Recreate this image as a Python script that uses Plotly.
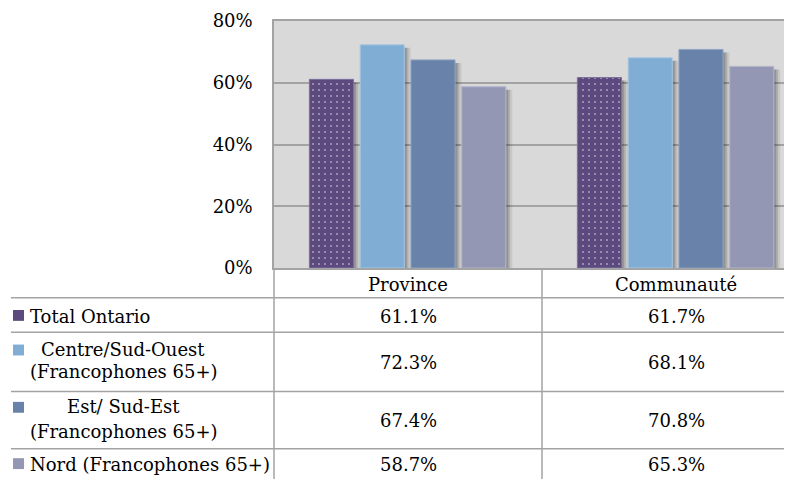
import plotly.graph_objects as go

# ---------------- data ----------------
categories = ["Province", "Communauté"]
series_names = [
    "Total Ontario",
    "Centre/Sud-Ouest (Francophones 65+)",
    "Est/ Sud-Est (Francophones 65+)",
    "Nord (Francophones 65+)",
]
province = [61.1, 72.3, 67.4, 58.7]
communaute = [61.7, 68.1, 70.8, 65.3]
tick_vals = [0, 20, 40, 60, 80]
tick_text = ["0%", "20%", "40%", "60%", "80%"]
legend_lines = [
    ["Total Ontario"],
    ["Centre/Sud-Ouest", "(Francophones 65+)"],
    ["Est/ Sud-Est", "(Francophones 65+)"],
    ["Nord (Francophones 65+)"],
]

# ---------------- styles ----------------
colors = ["#5C4A7E", "#7FADD4", "#6882A9", "#9397B4"]
outline = ["#7D6FA0", "#A8C8E4", "#8EA2C2", "#B2B5CB"]
FONT = "DejaVu Serif"
OFF = 8                      # page offset of the figure (body margin)
W, H = 792 - OFF, 479 - OFF
L, T = 274 - OFF, 18 - OFF
R = W - (790 - OFF)
B = H - (268 - OFF)
PW = W - L - R
PH = H - T - B
GRID = "#A3A3A3"

bar_w = 0.1645
offsets = [-0.368 + 0.1895 * i for i in range(4)]


def px_x(X):
    return (X - OFF - L) / PW


def px_y(Y):
    return (H - B - (Y - OFF)) / PH


fig = go.Figure()

# soft drop shadows (drawn first)
for i in range(4):
    vals = [province[i], communaute[i]]
    for sh, a in [(0.024, 0.08), (0.016, 0.12), (0.009, 0.16)]:
        fig.add_trace(go.Bar(
            x=categories, y=[v - 1.0 for v in vals], base=0,
            width=bar_w, offset=offsets[i] + sh,
            marker=dict(color=f"rgba(0,0,0,{a})", line=dict(width=0)),
            showlegend=False, hoverinfo="skip",
        ))

for i in range(4):
    vals = [province[i], communaute[i]]
    marker = dict(color=colors[i], line=dict(color=outline[i], width=1))
    if i == 0:
        marker["pattern"] = dict(shape=".", fgcolor="#E4DCF0", bgcolor=colors[0],
                                 size=6, solidity=0.06, fillmode="replace")
    fig.add_trace(go.Bar(
        x=categories, y=vals, name=series_names[i],
        width=bar_w, offset=offsets[i], marker=marker,
        showlegend=False,
    ))

shapes = []
annotations = []

# table grid lines
for Y in [298, 333, 393, 451]:
    shapes.append(dict(type="line", xref="paper", yref="paper",
                       x0=px_x(11), x1=1, y0=px_y(Y), y1=px_y(Y),
                       line=dict(color=GRID, width=1.5)))
for xv in [0, 268]:
    shapes.append(dict(type="line", xref="paper", yref="paper",
                       x0=xv / PW, x1=xv / PW, y0=0, y1=px_y(482),
                       line=dict(color=GRID, width=1.5)))

# header row (categories)
for c in categories:
    annotations.append(dict(x=c, xref="x", y=px_y(285), yref="paper",
                            text=c, showarrow=False, xanchor="center", yanchor="middle",
                            font=dict(family=FONT, size=18, color="#000")))

# value rows
row_y = [317, 364, 422, 467]
for i in range(4):
    for c, v in zip(categories, [province[i], communaute[i]]):
        annotations.append(dict(x=c, xref="x", y=px_y(row_y[i]), yref="paper",
                                text=f"{v:.1f}%", showarrow=False,
                                xanchor="center", yanchor="middle",
                                font=dict(family=FONT, size=18, color="#000")))

# legend column
line_pos = [[(28, 317)], [(39, 350), (28, 373)], [(65, 408), (28, 433)], [(28, 467)]]
square_y = [316, 351, 409, 466]
for i in range(4):
    for txt, (X, Y) in zip(legend_lines[i], line_pos[i]):
        annotations.append(dict(x=px_x(X), xref="paper", y=px_y(Y), yref="paper",
                                text=txt, showarrow=False, xanchor="left", yanchor="middle",
                                font=dict(family=FONT, size=18, color="#000")))
    shapes.append(dict(type="rect", xref="paper", yref="paper",
                       x0=px_x(13), x1=px_x(24),
                       y0=px_y(square_y[i] + 5.5), y1=px_y(square_y[i] - 5.5),
                       fillcolor=colors[i], line=dict(width=0)))

fig.update_layout(
    width=W, height=H,
    margin=dict(l=L, r=R, t=T, b=B, pad=0),
    barmode="overlay",
    paper_bgcolor="white",
    plot_bgcolor="#D9D9D9",
    showlegend=False,
    shapes=shapes,
    annotations=annotations,
    xaxis=dict(type="category", categoryorder="array", categoryarray=categories,
               range=[-0.5, 1.5 - 20 / 268], showticklabels=False, showgrid=False,
               showline=True, mirror=True, linecolor=GRID, linewidth=1.5,
               ticks="", zeroline=False, fixedrange=True),
    yaxis=dict(range=[0, 80], tickvals=tick_vals, ticktext=tick_text,
               showgrid=True, gridcolor=GRID, gridwidth=1.5,
               showline=True, linecolor=GRID, linewidth=1.5,
               zeroline=False, ticks="", ticklabelstandoff=16,
               ticklabeloverflow="allow",
               tickfont=dict(family=FONT, size=18, color="#000"), fixedrange=True),
)

fig.write_html("out.html")
